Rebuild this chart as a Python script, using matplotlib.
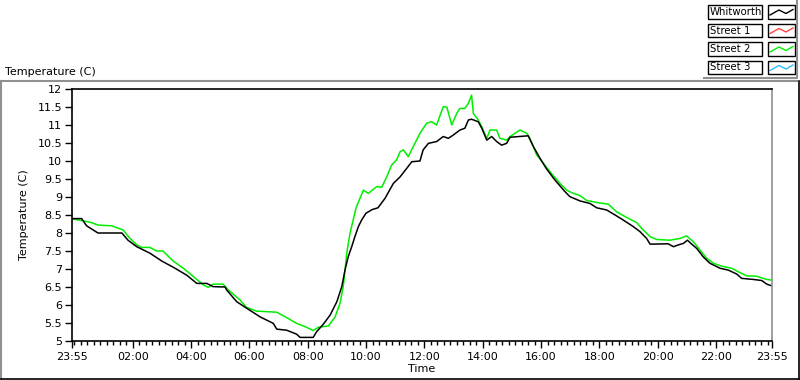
import numpy as np
import matplotlib
matplotlib.use("Agg")
import matplotlib.pyplot as plt
from matplotlib.ticker import FixedLocator, FuncFormatter
from matplotlib.patches import Rectangle
from matplotlib.lines import Line2D

# hours since 23:55 on the previous day
whitworth_t = [0.0, 0.33, 0.50, 0.89, 1.71, 1.92, 2.22, 2.67, 3.08, 3.47, 3.93, 4.28,
               4.62, 4.84, 5.25, 5.30, 5.65, 5.99, 6.45, 6.90, 7.02, 7.36, 7.70, 7.82,
               8.27, 8.39, 8.62, 8.85, 9.08, 9.25, 9.36, 9.47, 9.59, 9.70, 9.82, 9.93,
               10.08, 10.29, 10.49, 10.73, 11.02, 11.25, 11.48, 11.65, 11.93, 12.04,
               12.22, 12.50, 12.73, 12.90, 13.07, 13.30, 13.47, 13.59, 13.70, 13.93,
               14.05, 14.22, 14.39, 14.56, 14.73, 14.90, 15.02, 15.64, 15.82, 16.05,
               16.27, 16.56, 16.90, 17.07, 17.42, 17.76, 17.99, 18.33, 18.62, 18.90,
               19.24, 19.47, 19.70, 19.82, 20.44, 20.62, 20.79, 20.96, 21.10, 21.25,
               21.42, 21.64, 21.87, 22.22, 22.50, 22.79, 22.96, 23.36, 23.65, 23.82, 24.0]
whitworth_c = [8.4, 8.4, 8.2, 8.0, 8.0, 7.8, 7.62, 7.44, 7.22, 7.05, 6.83, 6.6,
               6.6, 6.51, 6.5, 6.42, 6.09, 5.91, 5.67, 5.49, 5.33, 5.3, 5.19, 5.1,
               5.1, 5.26, 5.47, 5.72, 6.09, 6.51, 6.97, 7.34, 7.62, 7.9, 8.18, 8.36,
               8.55, 8.65, 8.7, 8.96, 9.38, 9.56, 9.8, 9.98, 10.0, 10.31,
               10.49, 10.54, 10.68, 10.63, 10.72, 10.86, 10.91, 11.14, 11.16, 11.09,
               10.91, 10.58, 10.68, 10.54, 10.44, 10.49, 10.66, 10.7, 10.4, 10.07,
               9.78, 9.47, 9.15, 9.01, 8.89, 8.82, 8.7, 8.64, 8.5, 8.36,
               8.18, 8.04, 7.85, 7.69, 7.7, 7.62, 7.67, 7.71, 7.8, 7.69,
               7.57, 7.34, 7.16, 7.02, 6.97, 6.86, 6.74, 6.71, 6.68, 6.58, 6.53]

street2_t = [0.0, 0.22, 0.62, 0.90, 1.36, 1.76, 1.93, 2.22, 2.39, 2.67, 2.90, 3.12,
             3.47, 3.82, 4.16, 4.50, 4.67, 4.84, 5.18, 5.36, 5.76, 5.99, 6.33, 7.02,
             7.36, 7.70, 7.99, 8.27, 8.44, 8.79, 9.02, 9.19, 9.30, 9.42, 9.53, 9.64,
             9.74, 9.87, 9.99, 10.16, 10.45, 10.62, 10.79, 10.96, 11.13, 11.25, 11.36,
             11.53, 11.70, 11.93, 12.16, 12.33, 12.50, 12.73, 12.85, 13.02, 13.19,
             13.30, 13.47, 13.59, 13.70, 13.76, 13.93, 14.05, 14.22, 14.33, 14.56,
             14.67, 14.90, 15.02, 15.36, 15.59, 15.70, 15.93, 16.16, 16.39, 16.73,
             16.96, 17.19, 17.42, 17.65, 18.05, 18.39, 18.67, 19.02, 19.36, 19.59,
             19.82, 20.05, 20.50, 20.85, 21.07, 21.30, 21.53, 21.76, 21.99, 22.27,
             22.62, 22.90, 23.13, 23.47, 23.82, 24.0]
street2_c = [8.4, 8.36, 8.3, 8.22, 8.2, 8.08, 7.9, 7.67, 7.6, 7.6, 7.5, 7.5,
             7.22, 7.02, 6.79, 6.56, 6.49, 6.58, 6.58, 6.42, 6.14, 5.93, 5.83, 5.8,
             5.65, 5.49, 5.4, 5.29, 5.38, 5.42, 5.67, 6.05, 6.51, 7.44, 7.99, 8.36,
             8.7, 8.96, 9.19, 9.1, 9.29, 9.27, 9.56, 9.89, 10.03, 10.26, 10.31,
             10.12, 10.4, 10.77, 11.05, 11.09, 11.0, 11.51, 11.5, 11.0, 11.32,
             11.46, 11.46, 11.6, 11.83, 11.32, 11.14, 10.95, 10.63, 10.86, 10.86,
             10.63, 10.58, 10.68, 10.86, 10.77, 10.63, 10.17, 9.94, 9.7, 9.38,
             9.19, 9.1, 9.04, 8.9, 8.84, 8.8, 8.59, 8.43, 8.29, 8.08,
             7.9, 7.82, 7.8, 7.85, 7.92, 7.76, 7.53, 7.3, 7.16, 7.08,
             7.02, 6.9, 6.81, 6.8, 6.71, 6.69]

legend_names = ["Whitworth", "Street 1", "Street 2", "Street 3"]
legend_colors = ["#000000", "#ff4444", "#00ee00", "#33bbff"]

x_tick_labels = ["23:55", "02:00", "04:00", "06:00", "08:00", "10:00", "12:00",
                 "14:00", "16:00", "18:00", "20:00", "22:00", "23:55"]
x_tick_pos = [0.0] + [2 * k + 5 / 60 for k in range(1, 12)] + [24.0]

plt.rcParams['font.family'] = ['DejaVu Sans']
W, H = 800, 380
fig = plt.figure(figsize=(8, 3.8), dpi=100)

# outer panel frame
fig.add_artist(Line2D([1 / W, 797 / W], [1 - 81 / H, 1 - 81 / H], color="#909090", lw=1.5))
fig.add_artist(Line2D([1 / W, 1 / W], [1 - 81 / H, 1 - 379 / H], color="#909090", lw=1.5))
fig.add_artist(Line2D([798.5 / W, 798.5 / W], [1 - 81 / H, 1 - 379 / H], color="black", lw=1.2))
fig.add_artist(Line2D([1 / W, 799 / W], [1 - 378.5 / H, 1 - 378.5 / H], color="black", lw=1.2))

ax = fig.add_axes([72 / W, 1 - 341 / H, 700 / W, 252 / H])
ax.plot(street2_t, street2_c, color=legend_colors[2], lw=1.1)
ax.plot(whitworth_t, whitworth_c, color=legend_colors[0], lw=1.1)

ax.set_xlim(0, 24)
ax.set_ylim(5, 12)
ax.xaxis.set_major_locator(FixedLocator(x_tick_pos))
ax.set_xticklabels(x_tick_labels)
ax.xaxis.set_minor_locator(FixedLocator([5 / 60 + k * 2 / 9 for k in range(108)]))
ax.yaxis.set_major_locator(FixedLocator(np.arange(5, 12.01, 0.5)))
ax.yaxis.set_major_formatter(FuncFormatter(lambda v, p: f"{v:g}"))
ax.tick_params(axis="both", which="major", length=5, width=1, labelsize=8, pad=2, direction="out")
ax.tick_params(axis="x", which="minor", length=3, width=1, direction="out")
ax.tick_params(axis="x", which="major", pad=3)

for side in ["left", "top", "bottom"]:
    ax.spines[side].set_color("black")
    ax.spines[side].set_linewidth(1.2)
ax.spines["right"].set_color("#909090")
ax.spines["right"].set_linewidth(1.2)

ax.set_xlabel("Time", fontsize=8, labelpad=1)
ax.set_ylabel("Temperature (C)", fontsize=8, labelpad=6)
fig.text(5 / W, 1 - 72 / H, "Temperature (C)", fontsize=8, va="center", ha="left")

# legend panel
lax = fig.add_axes([0, 0, 1, 1], facecolor="none")
lax.set_xlim(0, W)
lax.set_ylim(H, 0)
lax.axis("off")
lax.plot([704, 797, 797], [77.5, 77.5, 0], color="#909090", lw=1.5)
for i, (name, col) in enumerate(zip(legend_names, legend_colors)):
    y0 = 5 + i * 18.5
    lax.add_patch(Rectangle((708, y0), 54, 13.5, fill=False, ec="black", lw=1))
    lax.add_patch(Rectangle((767.5, y0), 27.5, 13.5, fill=False, ec="black", lw=1))
    lax.text(709.5, y0 + 7, name, fontsize=7.3, va="center", ha="left")
    sx = np.array([770, 779, 786, 793])
    sy = y0 + np.array([10, 5, 8.5, 4.5])
    lax.plot(sx, sy, color=col, lw=1)

fig.savefig("out.png", dpi=100)
